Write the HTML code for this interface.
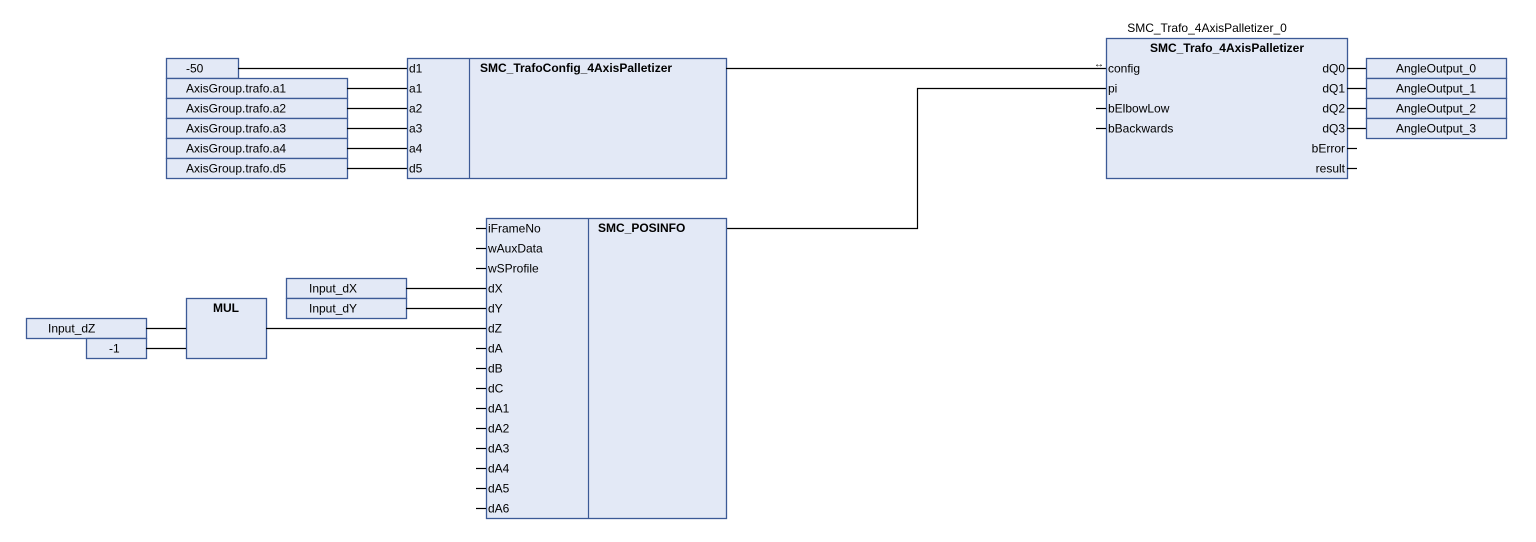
<!DOCTYPE html>
<html><head><meta charset="utf-8"><style>
html,body{margin:0;padding:0;background:#fff;width:1536px;height:542px;overflow:hidden}
svg{display:block}
text{font-family:"Liberation Sans",sans-serif;font-size:12px;fill:#000}
.b{font-weight:bold}
rect{fill:#e3e9f6;stroke:#3c5a96;stroke-width:1.3}
line,polyline{stroke:#000;stroke-width:1.2;fill:none}
</style></head><body>
<svg width="1536" height="542" viewBox="0 0 1536 542">
<!-- Config block inputs -->
<rect x="166.5" y="58.5" width="72" height="20"/>
<text x="186" y="72.5">-50</text>
<rect x="166.5" y="78.5" width="181" height="20"/><text x="186" y="92.5">AxisGroup.trafo.a1</text>
<rect x="166.5" y="98.5" width="181" height="20"/><text x="186" y="112.5">AxisGroup.trafo.a2</text>
<rect x="166.5" y="118.5" width="181" height="20"/><text x="186" y="132.5">AxisGroup.trafo.a3</text>
<rect x="166.5" y="138.5" width="181" height="20"/><text x="186" y="152.5">AxisGroup.trafo.a4</text>
<rect x="166.5" y="158.5" width="181" height="20"/><text x="186" y="172.5">AxisGroup.trafo.d5</text>
<line x1="238" y1="68.5" x2="407" y2="68.5"/>
<line x1="347" y1="88.5" x2="407" y2="88.5"/>
<line x1="347" y1="108.5" x2="407" y2="108.5"/>
<line x1="347" y1="128.5" x2="407" y2="128.5"/>
<line x1="347" y1="148.5" x2="407" y2="148.5"/>
<line x1="347" y1="168.5" x2="407" y2="168.5"/>
<rect x="407.5" y="58.5" width="319" height="120"/>
<line x1="469.5" y1="58.5" x2="469.5" y2="178.5" style="stroke:#3c5a96"/>
<text x="409" y="72.5">d1</text><text x="409" y="92.5">a1</text><text x="409" y="112.5">a2</text>
<text x="409" y="132.5">a3</text><text x="409" y="152.5">a4</text><text x="409" y="172.5">d5</text>
<text x="480" y="72" class="b">SMC_TrafoConfig_4AxisPalletizer</text>
<line x1="726" y1="68.5" x2="1106" y2="68.5"/>
<text x="1094" y="67" style="font-size:10px">↔</text>
<polyline points="726,228.5 917.5,228.5 917.5,88.5 1106,88.5"/>
<!-- Trafo block -->
<text x="1207" y="32" text-anchor="middle">SMC_Trafo_4AxisPalletizer_0</text>
<rect x="1106.5" y="38.5" width="241" height="140"/>
<text x="1227" y="52" class="b" text-anchor="middle">SMC_Trafo_4AxisPalletizer</text>
<text x="1108" y="72.5">config</text><text x="1108" y="92.5">pi</text>
<text x="1108" y="112.5">bElbowLow</text><text x="1108" y="132.5">bBackwards</text>
<line x1="1096" y1="108.5" x2="1106" y2="108.5"/><line x1="1096" y1="128.5" x2="1106" y2="128.5"/>
<text x="1345" y="72.5" text-anchor="end">dQ0</text><text x="1345" y="92.5" text-anchor="end">dQ1</text>
<text x="1345" y="112.5" text-anchor="end">dQ2</text><text x="1345" y="132.5" text-anchor="end">dQ3</text>
<text x="1345" y="152.5" text-anchor="end">bError</text><text x="1345" y="172.5" text-anchor="end">result</text>
<line x1="1347" y1="68.5" x2="1366" y2="68.5"/><line x1="1347" y1="88.5" x2="1366" y2="88.5"/>
<line x1="1347" y1="108.5" x2="1366" y2="108.5"/><line x1="1347" y1="128.5" x2="1366" y2="128.5"/>
<line x1="1347" y1="148.5" x2="1357" y2="148.5"/><line x1="1347" y1="168.5" x2="1357" y2="168.5"/>
<rect x="1366.5" y="58.5" width="140" height="20"/><text x="1436" y="72.5" text-anchor="middle">AngleOutput_0</text>
<rect x="1366.5" y="78.5" width="140" height="20"/><text x="1436" y="92.5" text-anchor="middle">AngleOutput_1</text>
<rect x="1366.5" y="98.5" width="140" height="20"/><text x="1436" y="112.5" text-anchor="middle">AngleOutput_2</text>
<rect x="1366.5" y="118.5" width="140" height="20"/><text x="1436" y="132.5" text-anchor="middle">AngleOutput_3</text>
<!-- POSINFO -->
<rect x="486.5" y="218.5" width="240" height="300"/>
<line x1="588.5" y1="218.5" x2="588.5" y2="518.5" style="stroke:#3c5a96"/>
<text x="598" y="232" class="b">SMC_POSINFO</text>
<g>
<text x="488" y="232.5">iFrameNo</text><text x="488" y="252.5">wAuxData</text><text x="488" y="272.5">wSProfile</text>
<text x="488" y="292.5">dX</text><text x="488" y="312.5">dY</text><text x="488" y="332.5">dZ</text>
<text x="488" y="352.5">dA</text><text x="488" y="372.5">dB</text><text x="488" y="392.5">dC</text>
<text x="488" y="412.5">dA1</text><text x="488" y="432.5">dA2</text><text x="488" y="452.5">dA3</text>
<text x="488" y="472.5">dA4</text><text x="488" y="492.5">dA5</text><text x="488" y="512.5">dA6</text>
</g>
<line x1="476" y1="228.5" x2="486" y2="228.5"/><line x1="476" y1="248.5" x2="486" y2="248.5"/>
<line x1="476" y1="268.5" x2="486" y2="268.5"/>
<line x1="476" y1="348.5" x2="486" y2="348.5"/><line x1="476" y1="368.5" x2="486" y2="368.5"/>
<line x1="476" y1="388.5" x2="486" y2="388.5"/><line x1="476" y1="408.5" x2="486" y2="408.5"/>
<line x1="476" y1="428.5" x2="486" y2="428.5"/><line x1="476" y1="448.5" x2="486" y2="448.5"/>
<line x1="476" y1="468.5" x2="486" y2="468.5"/><line x1="476" y1="488.5" x2="486" y2="488.5"/>
<line x1="476" y1="508.5" x2="486" y2="508.5"/>
<rect x="286.5" y="278.5" width="120" height="20"/><text x="309" y="292.5">Input_dX</text>
<rect x="286.5" y="298.5" width="120" height="20"/><text x="309" y="312.5">Input_dY</text>
<line x1="406" y1="288.5" x2="486" y2="288.5"/><line x1="406" y1="308.5" x2="486" y2="308.5"/>
<rect x="186.5" y="298.5" width="80" height="60"/><text x="226" y="312" class="b" text-anchor="middle">MUL</text>
<line x1="266" y1="328.5" x2="486" y2="328.5"/>
<rect x="26.5" y="318.5" width="120" height="20"/><text x="48" y="332.5">Input_dZ</text>
<rect x="86.5" y="338.5" width="60" height="20"/><text x="109" y="352.5">-1</text>
<line x1="146" y1="328.5" x2="186" y2="328.5"/><line x1="146" y1="348.5" x2="186" y2="348.5"/>
</svg>
</body></html>
